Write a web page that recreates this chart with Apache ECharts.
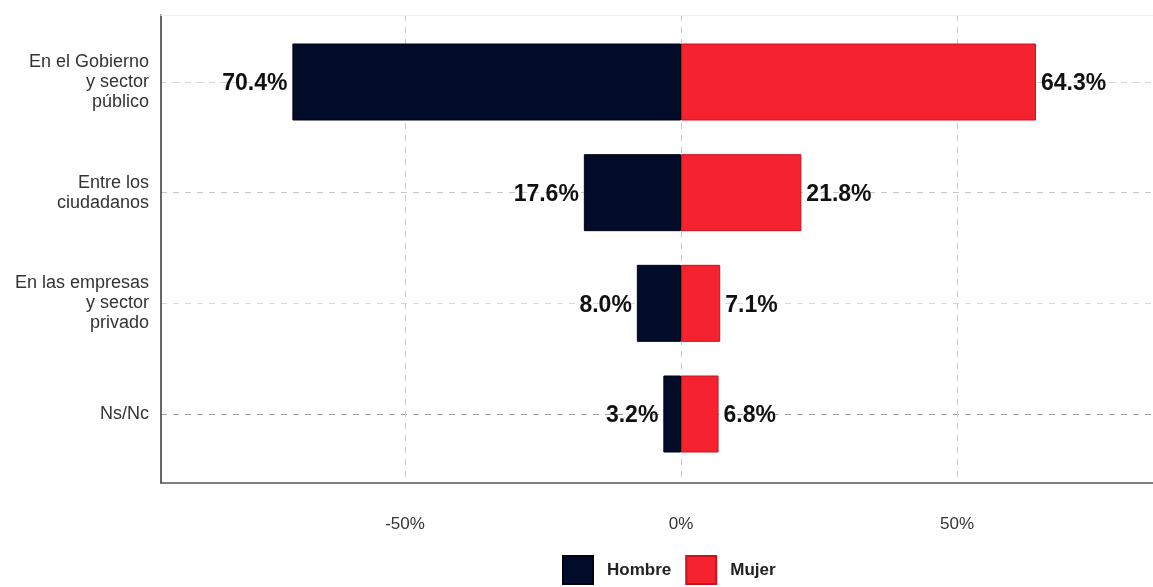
<!DOCTYPE html>
<html>
<head>
<meta charset="utf-8">
<script src="https://cdn.jsdelivr.net/npm/echarts@6/dist/echarts.min.js"></script>
<style>
html,body{margin:0;padding:0;background:#fff;}
#chart{width:1153px;height:587px;}
</style>
</head>
<body>
<div id="chart"></div>
<script>
const categories = ['En el Gobierno\ny sector\npúblico', 'Entre los\nciudadanos', 'En las empresas\ny sector\nprivado', 'Ns/Nc'];
const hombre = [70.4, 17.6, 8.0, 3.2];
const mujer = [64.3, 21.8, 7.1, 6.8];
const xTicks = [-50, 0, 50];
const xMin = -94.2, xMax = 85.5;

const FONT = "'Liberation Sans', Arial, sans-serif";
const chart = echarts.init(document.getElementById('chart'), null, {renderer: 'canvas'});

const option = {
  backgroundColor: '#ffffff',
  animation: false,
  textStyle: {fontFamily: FONT},
  grid: [
    {left: 161, right: 0, top: 15, bottom: 104},
    {left: 161, right: 0, top: 82, bottom: 173}
  ],
  xAxis: [
    {
      type: 'value', gridIndex: 0, min: xMin, max: xMax,
      axisLine: {show: true, onZero: false, lineStyle: {color: '#555', width: 1.5}},
      axisTick: {show: false, customValues: xTicks},
      axisLabel: {customValues: xTicks, formatter: v => v + '%', fontSize: 17, color: '#333', margin: 33, fontFamily: FONT},
      splitLine: {show: true, lineStyle: {color: '#c8c8c8', type: [6, 6], width: 1}}
    },
    {
      type: 'value', gridIndex: 1, min: xMin, max: xMax, show: false,
      splitLine: {show: false}
    },
    {
      type: 'value', gridIndex: 0, min: xMin, max: xMax, position: 'top',
      axisLine: {show: true, onZero: false, lineStyle: {color: '#eeeeee', width: 1}},
      axisTick: {show: false}, axisLabel: {show: false}, splitLine: {show: false}
    }
  ],
  yAxis: [
    {
      type: 'value', gridIndex: 0, min: 0, max: 1,
      axisLine: {show: true, onZero: false, lineStyle: {color: '#333', width: 1.5}},
      axisTick: {show: false}, axisLabel: {show: false}, splitLine: {show: false}
    },
    {
      type: 'category', gridIndex: 1, data: categories, inverse: true, boundaryGap: false,
      axisLine: {show: false}, axisTick: {show: false},
      axisLabel: {fontSize: 18, color: '#333', lineHeight: 20, margin: 12, align: 'right', fontFamily: FONT, interval: 0},
      splitLine: {show: true, interval: 0, lineStyle: {color: ['#d6d6d6', '#c8c8c8', '#d8d8d8', '#a0a0a0'], type: [6, 6], width: 1}}
    }
  ],
  legend: {
    top: 555, left: 562, padding: 0,
    icon: 'rect', itemWidth: 30, itemHeight: 28, itemGap: 14,
    textStyle: {fontSize: 17, color: '#222', fontWeight: 'bold', fontFamily: FONT, padding: [0, 0, 0, 9]},
    data: ['Hombre', 'Mujer']
  },
  series: [
    {
      name: 'Hombre', type: 'bar', xAxisIndex: 1, yAxisIndex: 1,
      data: hombre.map(v => -v), barWidth: 77, barGap: '-100%', clip: false,
      itemStyle: {color: '#020c2a', borderColor: '#00030f', borderWidth: 1},
      label: {show: true, position: 'left', distance: 5, fontSize: 23, fontWeight: 'bold', color: '#111', fontFamily: FONT,
        offset: [0, 2], formatter: p => Math.abs(p.value).toFixed(1) + '%'}
    },
    {
      name: 'Mujer', type: 'bar', xAxisIndex: 1, yAxisIndex: 1,
      data: mujer, barWidth: 77, barGap: '-100%', clip: false,
      itemStyle: {color: '#f5232f', borderColor: '#c8121d', borderWidth: 1},
      label: {show: true, position: 'right', distance: 5, fontSize: 23, fontWeight: 'bold', color: '#111', fontFamily: FONT,
        offset: [0, 2], formatter: p => p.value.toFixed(1) + '%'}
    }
  ]
};
chart.setOption(option);
</script>
</body>
</html>
